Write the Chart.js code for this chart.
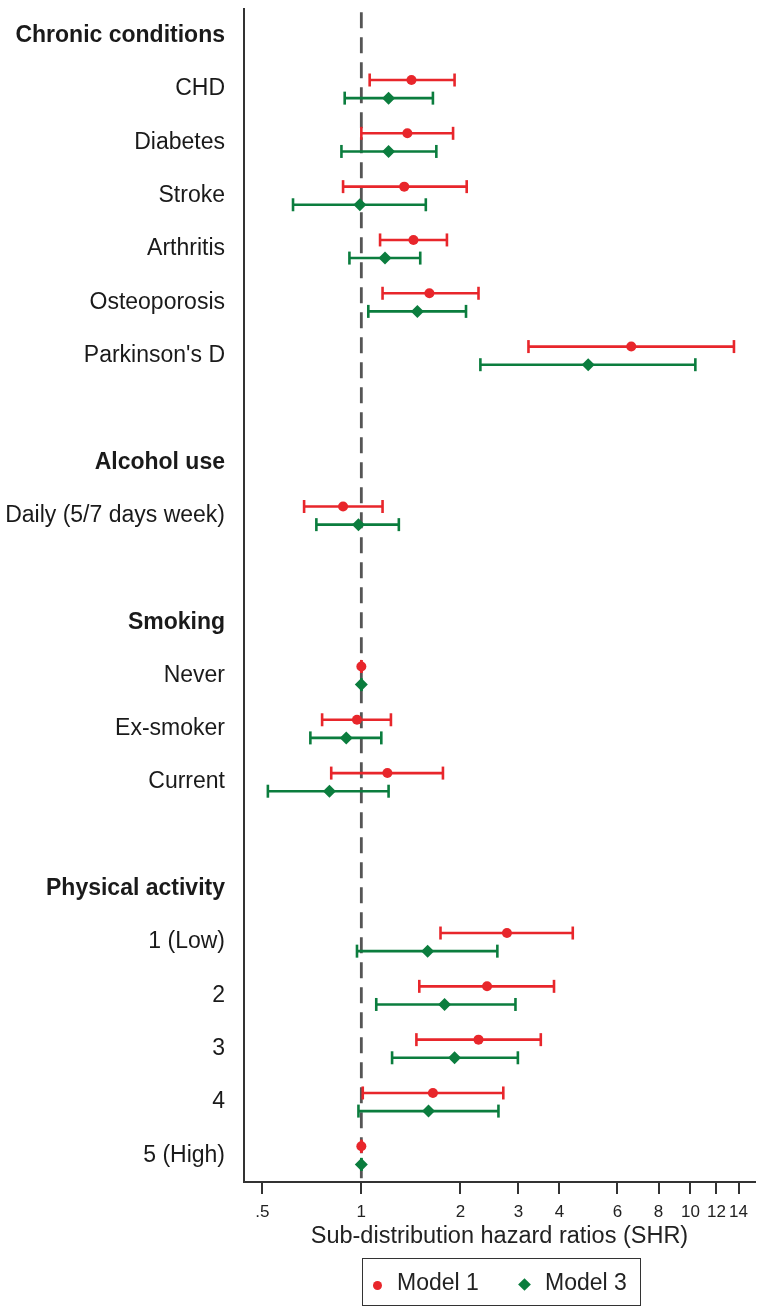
<!DOCTYPE html>
<html>
<head>
<meta charset="utf-8">
<script src="https://cdn.jsdelivr.net/npm/chart.js@4/dist/chart.umd.min.js"></script>
<style>
  body { margin: 0; background: #fff; }
  #wrap { position: relative; width: 764px; height: 1312px; }
  #legend {
    position: absolute; left: 362px; top: 1258px; width: 277px; height: 46px;
    border: 1.5px solid #333; font-family: 'Liberation Sans', Arial, sans-serif;
    font-size: 23px; color: #222;
  }
  .lg-item { position: absolute; top: 0; height: 46px; line-height: 46px; white-space: nowrap; }
  .dot { position: absolute; width: 9px; height: 9px; border-radius: 50%; background: #e8262b; top: 22px; }
  .dia { position: absolute; width: 9px; height: 9px; background: #0b7d3e; transform: rotate(45deg); top: 21px; }
</style>
</head>
<body>
<div id="wrap">
  <canvas id="chart" width="764" height="1312"></canvas>
  <div id="legend">
    <span class="dot" style="left:10px"></span>
    <span class="lg-item" style="left:34px">Model 1</span>
    <span class="dia" style="left:157px"></span>
    <span class="lg-item" style="left:182px">Model 3</span>
  </div>
</div>
<script>
// ---------- rows (top to bottom) ----------
const ROWS = [
  'Chronic conditions', 'CHD', 'Diabetes', 'Stroke', 'Arthritis', 'Osteoporosis', "Parkinson's D", '',
  'Alcohol use', 'Daily (5/7 days week)', '',
  'Smoking', 'Never', 'Ex-smoker', 'Current', '',
  'Physical activity', '1 (Low)', '2', '3', '4', '5 (High)'
];
const HEADER_ROWS = [0, 8, 11, 16];

// rows that carry estimates
const ITEM_ROWS = [1, 2, 3, 4, 5, 6, 9, 12, 13, 14, 17, 18, 19, 20, 21];

// Model 1 (red)
const M1_SHR = [1.42, 1.38, 1.35, 1.44, 1.61, 6.61, 0.88, 1.00, 0.97, 1.20, 2.77, 2.41, 2.27, 1.65, 1.00];
const M1_LO  = [1.06, 1.00, 0.88, 1.14, 1.16, 3.22, 0.67, 1.00, 0.76, 0.81, 1.74, 1.50, 1.47, 1.01, 1.00];
const M1_HI  = [1.92, 1.90, 2.09, 1.82, 2.27, 13.56, 1.16, 1.00, 1.23, 1.77, 4.39, 3.85, 3.51, 2.70, 1.00];

// Model 3 (green)
const M3_SHR = [1.21, 1.21, 0.99, 1.18, 1.48, 4.89, 0.98, 1.00, 0.90, 0.80, 1.59, 1.79, 1.92, 1.60, 1.00];
const M3_LO  = [0.89, 0.87, 0.62, 0.92, 1.05, 2.30, 0.73, 1.00, 0.70, 0.52, 0.97, 1.11, 1.24, 0.98, 1.00];
const M3_HI  = [1.65, 1.69, 1.57, 1.51, 2.08, 10.35, 1.30, 1.00, 1.15, 1.21, 2.59, 2.94, 2.99, 2.61, 1.00];

// x axis
const X_TICKS = [0.5, 1, 2, 3, 4, 6, 8, 10, 12, 14];
const X_TICK_LABELS = ['.5', '1', '2', '3', '4', '6', '8', '10', '12', '14'];

const RED = '#e8262b';
const GREEN = '#0b7d3e';
const AXIS = '#333';
const FONT = "'Liberation Sans', Arial, sans-serif";
const SHIFT = 0.17; // vertical offset of the two models within a row

// ---------- helpers ----------
function ciSegments(lo, hi, off) {
  const pts = [];
  ITEM_ROWS.forEach((r, i) => {
    pts.push({ x: lo[i], y: r + off });
    pts.push({ x: hi[i], y: r + off });
    pts.push({ x: hi[i], y: null }); // break
  });
  return pts;
}
function estimates(est, off) {
  return ITEM_ROWS.map((r, i) => ({ x: est[i], y: r + off }));
}

// ---------- chart ----------
new Chart(document.getElementById('chart'), {
  type: 'scatter',
  data: {
    datasets: [
      {
        label: 'Model 1', data: estimates(M1_SHR, -SHIFT), order: 1,
        pointStyle: 'circle', pointRadius: 5, backgroundColor: RED, borderColor: RED, borderWidth: 0
      },
      {
        label: 'Model 3', data: estimates(M3_SHR, SHIFT), order: 1,
        pointStyle: 'rectRot', pointRadius: 6.5, backgroundColor: GREEN, borderColor: GREEN, borderWidth: 0
      },
      {
        label: 'CI 1', data: ciSegments(M1_LO, M1_HI, -SHIFT), order: 3, showLine: true, spanGaps: false,
        borderColor: RED, borderWidth: 2.6, pointStyle: 'line', pointRotation: 90, pointRadius: 6.5,
        pointBorderWidth: 2.6, pointBorderColor: RED
      },
      {
        label: 'CI 3', data: ciSegments(M3_LO, M3_HI, SHIFT), order: 3, showLine: true, spanGaps: false,
        borderColor: GREEN, borderWidth: 2.6, pointStyle: 'line', pointRotation: 90, pointRadius: 6.5,
        pointBorderWidth: 2.6, pointBorderColor: GREEN
      },
      {
        label: 'ref', data: [{ x: 1, y: -0.44 }, { x: 1, y: 21.5 }], order: 5, showLine: true,
        borderColor: '#555', borderWidth: 2.8, borderDash: [16, 9], pointRadius: 0
      }
    ]
  },
  options: {
    responsive: false,
    animation: false,
    layout: { padding: { top: 0, right: 6, left: 0, bottom: 0 } },
    plugins: { legend: { display: false }, tooltip: { enabled: false } },
    scales: {
      x: {
        type: 'logarithmic',
        position: 'bottom',
        min: 0.44,
        max: 15.7,
        afterBuildTicks: s => { s.ticks = X_TICKS.map(v => ({ value: v })); },
        afterFit: s => { s.height = 130; s.paddingLeft = 0; s.paddingRight = 0; },
        grid: { drawOnChartArea: false, drawTicks: true, tickLength: 12, color: AXIS, lineWidth: 2 },
        border: { display: true, color: AXIS, width: 2 },
        ticks: {
          autoSkip: false, maxRotation: 0, padding: 8, color: '#222',
          font: { family: FONT, size: 17 },
          callback: (v, i) => X_TICK_LABELS[i]
        },
        title: {
          display: true, text: 'Sub-distribution hazard ratios (SHR)', color: '#222',
          font: { family: FONT, size: 23.5 }, padding: { top: 0, bottom: 61 }
        }
      },
      y: {
        type: 'linear',
        reverse: true,
        min: -0.5,
        max: 21.5,
        afterBuildTicks: s => { s.ticks = ROWS.map((_, i) => ({ value: i })); },
        afterFit: s => { s.width = 244; s.paddingTop = 0; s.paddingBottom = 0; },
        grid: { display: false },
        border: { display: true, color: AXIS, width: 2 },
        ticks: {
          autoSkip: false, padding: 11, color: '#1a1a1a',
          font: ctx => ({ family: FONT, size: 23, weight: HEADER_ROWS.includes(ctx.index) ? 'bold' : 'normal' }),
          callback: (v, i) => ROWS[i]
        }
      }
    }
  }
});
</script>
</body>
</html>
